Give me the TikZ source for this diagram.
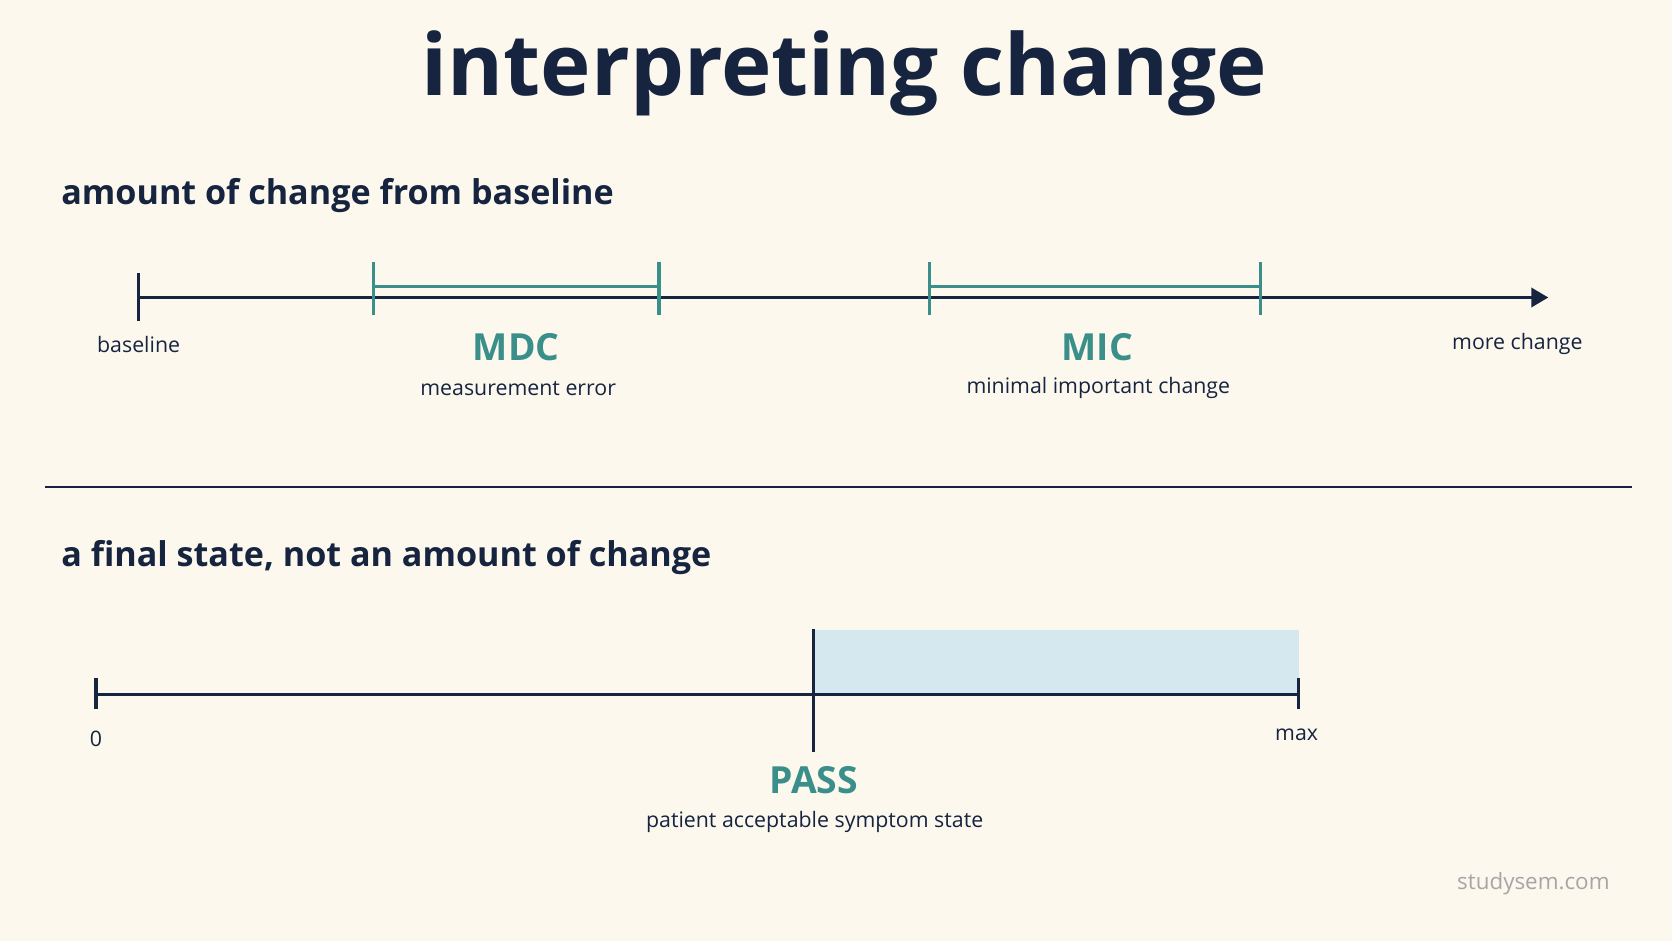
\documentclass[tikz,border=0pt]{standalone}
\usepackage{fontspec}
\setmainfont{Open Sans}
\usetikzlibrary{arrows.meta}
\definecolor{bg}{HTML}{FCF8EE}
\definecolor{navy}{HTML}{16243F}
\definecolor{teal}{HTML}{3A8F8A}
\definecolor{passfill}{HTML}{D6E8EF}
\begin{document}
\begin{tikzpicture}[x=1pt,y=-1pt,
 axis/.style={navy,line width=3pt},
 tick/.style={navy,line width=3pt},
 ttick/.style={teal,line width=3pt},
 lab/.style={text=navy,font=\fontsize{20}{24}\selectfont},
 big/.style={text=teal,font=\fontsize{35}{40}\selectfont\bfseries},
 head/.style={text=navy,font=\fontsize{32}{36}\selectfont\bfseries,anchor=west}]
\fill[bg] (0,0) rectangle (1568,882);
\useasboundingbox (0,0) rectangle (1568,882);
\node[text=navy,font=\fontsize{80}{88}\selectfont\bfseries] (title) at (792,69) {interpreting change};
\node[head] (h1) at (54,183) {amount of change from baseline};
% top axis
\coordinate (a0) at (130,279); \coordinate (a1) at (1452,279);
\draw[axis,-{Triangle[length=16pt,width=18pt]}] (a0) -- (a1);
\draw[tick] (130,256) -- (130,301);
\draw[ttick] (350,246) -- (350,295);
\draw[ttick] (618,246) -- (618,295);
\draw[ttick] (872,246) -- (872,295);
\draw[ttick] (1182,246) -- (1182,295);
\draw[teal,line width=3pt] (350,269) -- (618,269);
\draw[teal,line width=3pt] (872,269) -- (1182,269);
\node[lab] (bl) at (130,323) {baseline};
\node[lab] (mc) at (1423,323) {more change};
\node[big] (mdc) at (484,326) {MDC};
\node[lab] (me) at (486,364) {measurement error};
\node[big] (mic) at (1029,326) {MIC};
\node[lab] (mi) at (1030,364) {minimal important change};
% divider
\draw[navy,line width=2pt] (42,457) -- (1530,457);
\node[head] (h2) at (54,523) {a final state, not an amount of change};
% bottom
\fill[passfill] (763,591) rectangle (1218,651);
\draw[axis] (90,651) -- (1218,651);
\draw[tick] (90,636) -- (90,665);
\draw[tick] (1218,636) -- (1218,665);
\draw[tick] (763,590) -- (763,705);
\node[lab] (z) at (90,693) {0};
\node[lab] (mx) at (1216,689) {max};
\node[big] (pass) at (763,732) {PASS};
\node[lab] (ps) at (764,771) {patient acceptable symptom state};
\node[text=gray!70,font=\fontsize{21}{24}\selectfont] (wm) at (1438,829) {studysem.com};
\end{tikzpicture}
\end{document}
